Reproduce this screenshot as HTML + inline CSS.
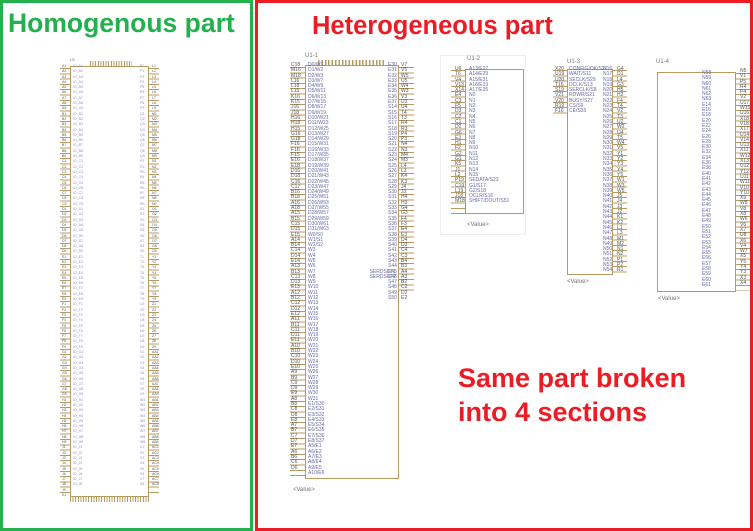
<!DOCTYPE html>
<html><head><meta charset="utf-8"><style>
body{margin:0;width:753px;height:531px;background:#fff;position:relative;overflow:hidden;font-family:"Liberation Sans",sans-serif}
.a{position:absolute}
.box{position:absolute;box-sizing:border-box}
.chip{position:absolute;border:1px solid #b89a60;box-sizing:border-box}
.pl{position:absolute;background:repeating-linear-gradient(to bottom,transparent 0,transparent 2px,#b89a60 2px,#b89a60 3px,transparent 3px,transparent 5.3px)}
.t{position:absolute;font-size:5px;line-height:5.3px;width:1px;color:#6a6aa8;word-spacing:20px}
.n{color:#555}
.lbl{position:absolute;font-size:6px;color:#777}
</style></head><body>
<div class="box" style="left:0;top:0;width:253px;height:531px;border:3px solid #22b14c"></div>
<div class="box" style="top:0;left:255px;width:498px;height:531px;border:3px solid #ed1c24"></div>
<div class="a" style="left:8px;top:8px;font-size:26.5px;font-weight:bold;color:#22b14c;white-space:nowrap">Homogenous part</div>
<div class="a" style="left:312px;top:12px;font-size:25.5px;font-weight:bold;color:#ed1c24;white-space:nowrap">Heterogeneous part</div>
<div class="a" style="left:458px;top:361px;font-size:27px;font-weight:bold;color:#ed1c24;line-height:34px;white-space:nowrap">Same part broken<br>into 4 sections</div>

<!-- left chip -->
<div class="lbl" style="left:70px;top:57px;font-size:4px">U1</div>
<div class="chip" style="left:70px;top:66px;width:79px;height:431px"></div>
<div class="a" style="left:90px;top:61px;width:42px;height:5px;background:repeating-linear-gradient(to right,#b89a60 0,#b89a60 1px,transparent 1px,transparent 2.6px)"></div>
<div class="a" style="left:70px;top:497px;width:79px;height:5px;background:repeating-linear-gradient(to right,#b89a60 0,#b89a60 1px,transparent 1px,transparent 2.6px)"></div>
<div class="pl" style="left:60px;top:66px;width:10px;height:428px"></div>
<div class="pl" style="left:149px;top:66px;width:10px;height:428px"></div>
<div class="t n" style="left:62px;top:64px;font-size:3.5px;line-height:5.3px">A1 A2 A3 A4 A5 A6 A7 A8 A9 B1 B2 B3 B4 B5 B6 B7 B8 B9 C1 C2 C3 C4 C5 C6 C7 C8 C9 D1 D2 D3 D4 D5 D6 D7 D8 D9 E1 E2 E3 E4 E5 E6 E7 E8 E9 F1 F2 F3 F4 F5 F6 F7 F8 F9 G1 G2 G3 G4 G5 G6 G7 G8 G9 H1 H2 H3 H4 H5 H6 H7 H8 H9 J1 J2 J3 J4 J5 J6 J7 J8 J9 K1</div>
<div class="t" style="left:73px;top:64px;font-size:3.5px;color:#9090c0">IO_A1 IO_A2 IO_A3 IO_A4 IO_A5 IO_A6 IO_A7 IO_A8 IO_A9 IO_B1 IO_B2 IO_B3 IO_B4 IO_B5 IO_B6 IO_B7 IO_B8 IO_B9 IO_C1 IO_C2 IO_C3 IO_C4 IO_C5 IO_C6 IO_C7 IO_C8 IO_C9 IO_D1 IO_D2 IO_D3 IO_D4 IO_D5 IO_D6 IO_D7 IO_D8 IO_D9 IO_E1 IO_E2 IO_E3 IO_E4 IO_E5 IO_E6 IO_E7 IO_E8 IO_E9 IO_F1 IO_F2 IO_F3 IO_F4 IO_F5 IO_F6 IO_F7 IO_F8 IO_F9 IO_G1 IO_G2 IO_G3 IO_G4 IO_G5 IO_G6 IO_G7 IO_G8 IO_G9 IO_H1 IO_H2 IO_H3 IO_H4 IO_H5 IO_H6 IO_H7 IO_H8 IO_H9 IO_J1 IO_J2 IO_J3 IO_J4 IO_J5 IO_J6 IO_J7 IO_J8</div>
<div class="t" style="left:140px;top:64px;font-size:3.5px;color:#9090c0">P1 P2 P3 P4 P5 P6 P7 P8 P9 Q1 Q2 Q3 Q4 Q5 Q6 Q7 Q8 Q9 R1 R2 R3 R4 R5 R6 R7 R8 R9 S1 S2 S3 S4 S5 S6 S7 S8 S9 T1 T2 T3 T4 T5 T6 T7 T8 T9 U1 U2 U3 U4 U5 U6 U7 U8 U9 V1 V2 V3 V4 V5 V6 V7 V8 V9 W1 W2 W3 W4 W5 W6 W7 W8 W9 X1 X2 X3 X4 X5 X6 X7 X8</div>
<div class="t n" style="left:152px;top:64px;font-size:3.5px">L1 L2 L3 L4 L5 L6 L7 L8 L9 M1 M2 M3 M4 M5 M6 M7 M8 M9 N1 N2 N3 N4 N5 N6 N7 N8 N9 O1 O2 O3 O4 O5 O6 O7 O8 O9 Y1 Y2 Y3 Y4 Y5 Y6 Y7 Y8 Y9 Z1 Z2 Z3 Z4 Z5 Z6 Z7 Z8 Z9 AA1 AA2 AA3 AA4 AA5 AA6 AA7 AA8 AA9 AB1 AB2 AB3 AB4 AB5 AB6 AB7 AB8 AB9 AC1 AC2 AC3 AC4 AC5 AC6 AC7 AC8</div>

<!-- U1-1 -->
<div class="lbl" style="left:305px;top:53px">U1-1</div>
<div class="chip" style="left:305px;top:65px;width:94px;height:414px"></div>
<div class="a" style="left:318px;top:60px;width:68px;height:5px;background:repeating-linear-gradient(to right,#b89a60 0,#b89a60 1.5px,transparent 1.5px,transparent 3.4px)"></div>
<div class="pl" style="left:290px;top:65px;width:15px;height:413px"></div>
<div class="pl" style="left:399px;top:65px;width:15px;height:230px"></div>
<div class="t n" style="left:291px;top:63px">C18 M16 M18 L16 L18 L15 K16 K15 J16 J18 H16 H18 H15 G16 G18 F16 F18 F15 E16 E18 D16 D18 C16 C17 B16 B18 A16 A18 A15 B15 C15 D15 E15 A14 B14 C14 D14 E14 A13 B13 C13 D13 E13 A12 B12 C12 D12 E12 A11 B11 C11 D11 E11 A10 B10 C10 D10 E10 A9 B9 C9 D9 E9 A8 B8 C8 D8 E8 A7 B7 C7 D7 E7 A6 B6 C6 D6</div>
<div class="t" style="left:308px;top:63px">D0/W1 D1/W2 D2/W3 D3/W7 D4/W9 D5/W11 D6/W13 D7/W15 D8/W17 D9/W19 D10/W21 D11/W23 D12/W25 D13/W27 D14/W29 D15/W31 D16/W33 D17/W35 D18/W37 D19/W39 D20/W41 D21/W43 D22/W45 D23/W47 D24/W49 D25/W51 D26/W53 D27/W55 D28/W57 D29/W59 D30/W61 D31/W63 W0/S0 W1/S1 W2/S2 W3 W4 W5 W6 W7 W8 W9 W10 W11 W12 W13 W14 W15 W16 W17 W18 W19 W20 W21 W22 W23 W24 W25 W26 W27 W28 W29 W30 W31 E1/S30 E2/S31 E3/S32 E4/S33 E5/S34 E6/S35 E7/S36 E8/S37 A5/E1 A6/E2 A7/E3 A8/E4 A9/E5 A10/E6</div>
<div class="t" style="left:388px;top:63px">E30 E31 E32 E33 E34 E35 E36 E37 S14 S15 S16 S17 S18 S19 S20 S21 S22 S23 S24 S25 S26 S27 S28 S29 S30 S31 S32 S33 S34 S35 S36 S37 S38 S39 S40 S41 S42 S43 S44 S45 S46 S47 S48 S49 S50</div>
<div class="t n" style="left:401px;top:63px">V7 V5 W5 U5 W4 W3 V3 U3 U4 T4 T3 R4 R3 P4 P3 N4 N3 M4 M3 L4 L3 K4 K3 J4 J3 H4 H3 G4 G3 F4 F3 E4 E3 D4 D3 C4 C3 B4 B3 A4 A3 B2 C2 D2 E2</div>
<div class="a" style="left:340px;top:270px;font-size:5px;color:#6a6aa8;line-height:5.3px;text-align:right;width:56px">SERDSET1<br>SERDSET2</div>
<div class="lbl" style="left:293px;top:487px">&lt;Value&gt;</div>

<!-- U1-2 -->
<div class="box" style="left:440px;top:55px;width:86px;height:180px;border:1px solid #eee"></div>
<div class="lbl" style="left:467px;top:56px">U1-2</div>
<div class="chip" style="left:465px;top:69px;width:59px;height:145px"></div>
<div class="pl" style="left:451px;top:68px;width:14px;height:146px"></div>
<div class="t n" style="left:455px;top:67px">U6 T6 V4 V13 X14 E4 C3 F5 D3 C2 C1 D2 G6 E3 H1 F2 G2 G1 K5 J1 L2 P19 C19 L19 J18 M18</div>
<div class="t" style="left:469px;top:67px">A13/E27 A14/E29 A15/E31 A16/E33 A17/E35 N0 N1 N2 N3 N4 N5 N6 N7 N8 N9 N10 N11 N12 N13 N14 N15 SEDATA/S23 G1/S17 G2/S18 OCLR/S16 SHIFT/DOUT/S51</div>
<div class="lbl" style="left:467px;top:222px">&lt;Value&gt;</div>

<!-- U1-3 -->
<div class="lbl" style="left:567px;top:59px">U1-3</div>
<div class="chip" style="left:567px;top:69px;width:46px;height:206px"></div>
<div class="pl" style="left:553px;top:68px;width:14px;height:47px"></div>
<div class="pl" style="left:613px;top:68px;width:14px;height:205px"></div>
<div class="t n" style="left:555px;top:67px">X20 U19 U20 T16 S19 V21 V20 R19 F16</div>
<div class="t" style="left:569px;top:67px">CONFIG/OK/S21 WAIT/S11 SECLK/S29 DCLK/S13 SERCLK/S8 RDWR/S21 BUSY/S27 CS/S9 CE/S35</div>
<div class="t" style="left:603px;top:67px">N16 N17 N18 N19 N20 N21 N22 N23 N24 N25 N26 N27 N28 N29 N30 N31 N32 N33 N34 N35 N36 N37 N38 N39 N40 N41 N42 N43 N44 N45 N46 N47 N48 N49 N50 N51 N52 N53 N54</div>
<div class="t n" style="left:617px;top:67px">G4 D1 L4 G3 H5 H2 F4 T4 V2 T3 U2 W2 U4 T5 W4 V5 Y1 Y2 Y3 Y4 Y5 W1 W3 W5 J5 J4 J3 J2 K1 K2 L1 L3 M1 M2 N1 N2 P1 P2 R1</div>
<div class="lbl" style="left:567px;top:279px">&lt;Value&gt;</div>

<!-- U1-4 -->
<div class="lbl" style="left:656px;top:59px">U1-4</div>
<div class="chip" style="left:657px;top:72px;width:79px;height:220px"></div>
<div class="pl" style="left:736px;top:71px;width:14px;height:220px"></div>
<div class="t" style="left:702px;top:71px">N58 N59 N60 N61 N62 N63 E14 E16 E18 E20 E22 E24 E26 E28 E30 E32 E34 E36 E38 E40 E41 E42 E43 E44 E45 E46 E47 E48 E49 E50 E51 E52 E53 E54 E55 E56 E57 E58 E59 E60 E61</div>
<div class="t n" style="left:740px;top:69px">N5 V1 P5 R4 P4 V2 U17 W15 U16 X18 V18 X17 U14 V14 U13 X11 W12 X13 U12 Y12 U11 W11 V10 Y10 X9 W8 V8 X8 W6 V6 X7 U8 X6 V4 W7 X5 Y5 Y4 Y3 X3 X4</div>
<div class="lbl" style="left:658px;top:296px">&lt;Value&gt;</div>
</body></html>
